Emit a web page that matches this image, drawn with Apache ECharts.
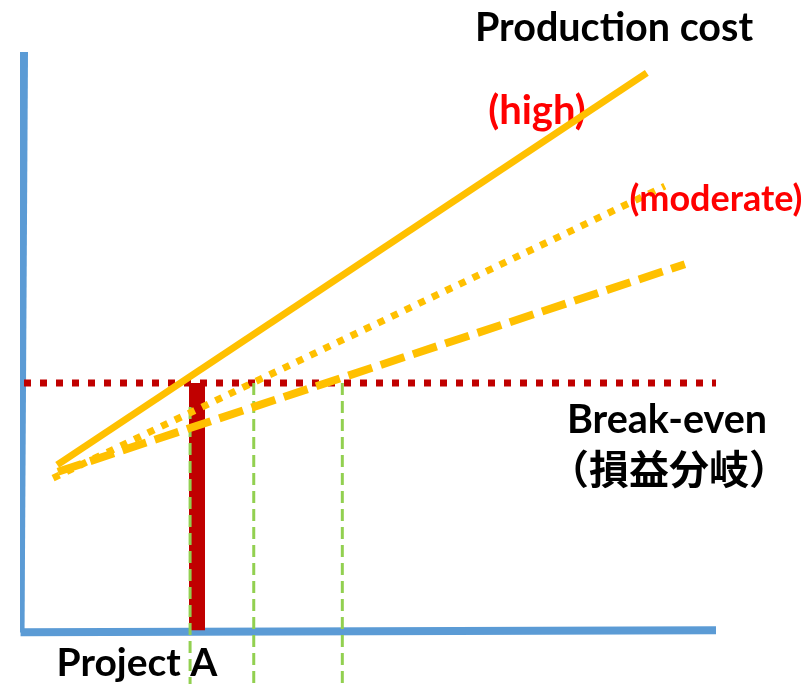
<!DOCTYPE html>
<html>
<head>
<meta charset="utf-8">
<script src="https://cdn.jsdelivr.net/npm/echarts@6/dist/echarts.min.js"></script>
<style>
html,body{margin:0;padding:0;background:#fff;}
#chart{width:805px;height:684px;}
</style>
</head>
<body>
<div id="chart"></div>
<script>
// Data (value space: x 0..100, y 0..100)
const costHigh = [[4.8, 28.6], [90.0, 96.4]];
const costModerate = [[4.2, 26.3], [92.6, 76.8]];
const costLow = [[4.9, 27.4], [95.5, 63.3]];
const breakEvenLevel = 42.75;
const breakEvenLine = [[0, breakEvenLevel], [100, breakEvenLevel]];
const projectAX = 25.0;
const projectABar = [[projectAX, 0], [projectAX, breakEvenLevel]];
const guideXs = [24.0, 33.2, 46.0];
const guideTops = [38.6, breakEvenLevel, breakEvenLevel];
const axisBottom = -9.3;
const yAxisLine = [[-0.5, -0.4], [0, 100]];
const xAxisLine = [[-0.5, -0.35], [100, 0]];
const labels = {
  title: 'Production cost',
  high: '(high)',
  moderate: '(moderate)',
  breakEven: 'Break-even',
  breakEvenJa: '（損益分岐）',
  project: 'Project A'
};

const chart = echarts.init(document.getElementById('chart'));
const lineBase = { type: 'line', symbol: 'none', silent: true, animation: false };

const series = [
  Object.assign({}, lineBase, { data: yAxisLine, lineStyle: { color: '#5B9BD5', width: 8, cap: 'butt' }, z: 1 }),
  Object.assign({}, lineBase, { data: xAxisLine, lineStyle: { color: '#5B9BD5', width: 8, cap: 'butt' }, z: 1 }),
  Object.assign({}, lineBase, { data: breakEvenLine, lineStyle: { color: '#C00000', width: 7, type: [7, 9], cap: 'butt' }, z: 2 }),
  Object.assign({}, lineBase, { data: projectABar, lineStyle: { color: '#C00000', width: 16, cap: 'butt' }, z: 3 })
];
guideXs.forEach((gx, i) => {
  series.push(Object.assign({}, lineBase, {
    data: [[gx, guideTops[i]], [gx, axisBottom]],
    lineStyle: { color: '#92D050', width: 3, type: [12, 6], cap: 'butt' }, z: 4
  }));
});
series.push(Object.assign({}, lineBase, { data: costHigh, lineStyle: { color: '#FFC000', width: 7, cap: 'butt' }, z: 5 }));
series.push(Object.assign({}, lineBase, { data: costModerate, lineStyle: { color: '#FFC000', width: 7, type: [7, 8], cap: 'butt' }, z: 5 }));
series.push(Object.assign({}, lineBase, { data: costLow, lineStyle: { color: '#FFC000', width: 8, type: [25, 9], cap: 'butt' }, z: 5 }));

const font = 'Lato, "Noto Sans CJK JP", sans-serif';
function txt(text, x, y, size, color, z) {
  return { type: 'text', x: x, y: y, z: z || 0, silent: true,
    style: { text: text, fill: color, font: 'bold ' + size + 'px ' + font, textAlign: 'center', textVerticalAlign: 'middle' } };
}

chart.setOption({
  animation: false,
  grid: { left: 24, right: 89, top: 52, bottom: 0 },
  xAxis: { type: 'value', min: 0, max: 100, show: false },
  yAxis: { type: 'value', min: axisBottom, max: 100, show: false },
  series: series,
  graphic: [
    txt(labels.title, 614, 28, 39.5, '#000000'),
    txt(labels.high, 537, 111, 40, '#FF0000'),
    txt(labels.moderate, 716, 199, 36, '#FF0000', 100),
    txt(labels.breakEven, 667, 420, 39.5, '#000000'),
    { type: 'text', x: 669, y: 469, silent: true,
      style: { text: labels.breakEvenJa, fill: '#000000', font: 'bold 40px "Noto Sans CJK JP", sans-serif', textAlign: 'center', textVerticalAlign: 'middle' } },
    txt(labels.project, 137, 663, 39, '#000000')
  ]
});
</script>
</body>
</html>
